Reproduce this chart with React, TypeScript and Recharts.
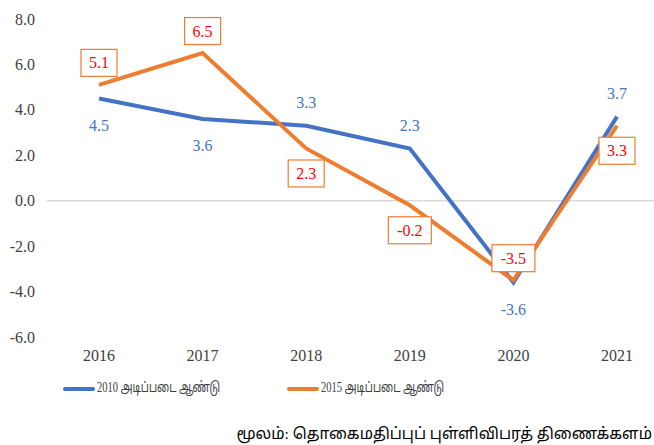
import React from 'react';
import { LineChart, Line, XAxis, YAxis, ReferenceLine, LabelList } from 'recharts';

const years = ['2016', '2017', '2018', '2019', '2020', '2021'];
const base2010 = [4.5, 3.6, 3.3, 2.3, -3.6, 3.7];
const base2015 = [5.1, 6.5, 2.3, -0.2, -3.5, 3.3];
const yTicks = [-6, -4, -2, 0, 2, 4, 6, 8];

const name2010 = '2010 அடிப்படை ஆண்டு';
const name2015 = '2015 அடிப்படை ஆண்டு';
const sourceText = 'மூலம்: தொகைமதிப்புப் புள்ளிவிபரத் திணைக்களம்';

// label placement: +1 above the point, -1 below
const blueSide = [-1, -1, 1, 1, -1, 1];
const orangeSide = [1, 1, -1, -1, 1, -1];

const BLUE = '#4472C4';
const ORANGE = '#ED7D31';
const FONT = '"Liberation Serif", "Times New Roman", serif';
const TAMIL = '"Liberation Serif", "Noto Sans Tamil", "Noto Serif Tamil", "Lohit Tamil", "Latha", "FreeSerif", "FreeSans", serif';

const chartData = years.map((year, i) => ({
  year,
  b2010: base2010[i],
  b2015: base2015[i],
}));

const XTick = (props: any) => {
  const { x, y, payload } = props;
  return (
    <text x={x} y={y + 10} fill="#404040" fontSize={16} fontFamily={FONT} textAnchor="middle" dominantBaseline="central">
      {payload.value}
    </text>
  );
};

const YTick = (props: any) => {
  const { x, y, payload } = props;
  return (
    <text x={x} y={y} fill="#404040" fontSize={16} fontFamily={FONT} textAnchor="end" dominantBaseline="central">
      {Number(payload.value).toFixed(1)}
    </text>
  );
};

const BlueLabel = (props: any) => {
  const { x, y, value, index } = props;
  const up = blueSide[index] > 0;
  return (
    <text
      x={x}
      y={up ? y - 23 : y + 27}
      fill={BLUE}
      fontSize={16}
      fontFamily={FONT}
      textAnchor="middle"
      dominantBaseline="central"
    >
      {Number(value).toFixed(1)}
    </text>
  );
};

const OrangeLabel = (props: any) => {
  const { x, y, value, index } = props;
  const up = orangeSide[index] > 0;
  const cy = up ? y - 22 : y + 25;
  const txt = Number(value).toFixed(1);
  const w = txt.length > 3 ? 43 : 36;
  const h = 27;
  return (
    <g>
      <rect x={x - w / 2} y={cy - h / 2} width={w} height={h} fill="#fff" stroke={ORANGE} strokeWidth={1.2} />
      <text
        x={x}
        y={cy}
        fill="#FF0000"
        fontSize={16}
        fontFamily={FONT}
        textAnchor="middle"
        dominantBaseline="central"
      >
        {txt}
      </text>
    </g>
  );
};

const legendItem = (left: number, color: string, label: string) => (
  <div style={{ position: 'absolute', top: 380, left, display: 'flex', alignItems: 'center', color: '#404040', fontFamily: TAMIL }}>
    <span style={{ display: 'inline-block', width: 32, height: 4, background: color, borderRadius: 2 }} />
    <span style={{ marginLeft: 2, fontSize: 14, display: 'inline-block', transform: 'scaleX(0.75)', transformOrigin: 'left center', whiteSpace: 'nowrap' }}>
      {label}
    </span>
  </div>
);

export default function App() {
  return (
    <div style={{ position: 'absolute', left: 0, top: 0, width: 654, height: 445, background: '#fff', fontFamily: FONT }}>
      <LineChart width={654} height={445} data={chartData} margin={{ top: 19, right: 0, left: 0, bottom: 78 }} style={{ fontFamily: FONT }}>
        <ReferenceLine y={0} stroke="#d9d9d9" strokeWidth={1.5} />
        <XAxis
          dataKey="year"
          axisLine={false}
          tickLine={false}
          height={30}
          tickMargin={2}
          padding={{ left: 52, right: 37 }}
          tick={<XTick />}
        />
        <YAxis
          width={47}
          domain={[-6, 8]}
          ticks={yTicks}
          axisLine={false}
          tickLine={false}
          tickMargin={6}
          tick={<YTick />}
        />
        <Line dataKey="b2010" name={name2010} stroke={BLUE} strokeWidth={4} dot={false} isAnimationActive={false}>
          <LabelList dataKey="b2010" content={BlueLabel} />
        </Line>
        <Line dataKey="b2015" name={name2015} stroke={ORANGE} strokeWidth={4} dot={false} isAnimationActive={false}>
          <LabelList dataKey="b2015" content={OrangeLabel} />
        </Line>
      </LineChart>
      {legendItem(63, BLUE, name2010)}
      {legendItem(287, ORANGE, name2015)}
      <div style={{ position: 'absolute', top: 425, right: 2, fontSize: 15.5, color: '#000', whiteSpace: 'nowrap', fontFamily: TAMIL }}>
        {sourceText}
      </div>
    </div>
  );
}
